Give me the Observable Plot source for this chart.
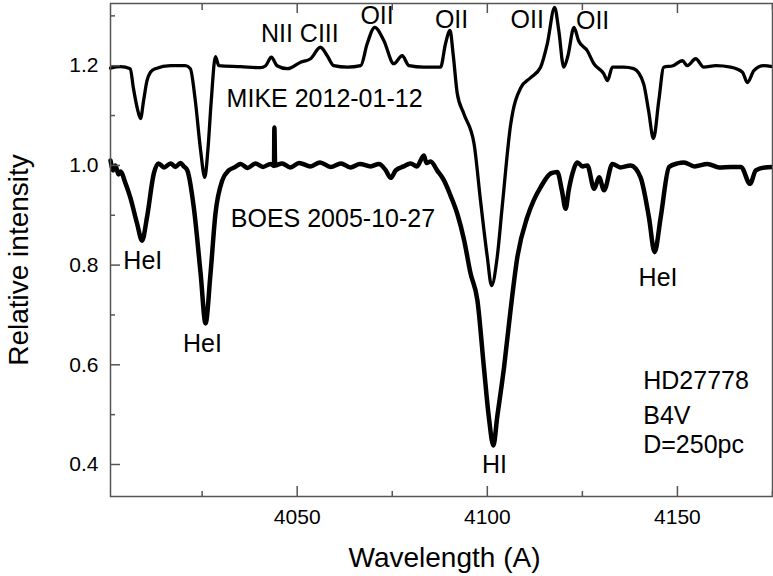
<!DOCTYPE html>
<html><head><meta charset="utf-8">
<script src="https://cdn.jsdelivr.net/npm/d3@7"></script>
<script src="https://cdn.jsdelivr.net/npm/@observablehq/plot@0.6"></script>
<style>body{margin:0;background:#fff;} #chart svg{display:block;}</style>
</head><body><div id="chart"></div>
<script>
// MIKE 2012-01-12 spectrum (offset +0.2)
const mikeWl = [4000.9,4003.5,4006.1,4006.9,4007.9,4008.8,4009.6,4010.5,4011.4,4012.7,4016.7,4020.6,4021.9,4023.2,4024.6,4025.7,4026.5,4027.4,4028.5,4029.4,4035.1,4040.3,4041.7,4043.2,4044.7,4047.4,4050.9,4053.5,4056.1,4057.9,4059.6,4063.2,4066.7,4068.4,4070.4,4072.8,4075.4,4077.6,4079.4,4083.3,4087.7,4089.0,4090.2,4091.0,4092.1,4093.8,4096.5,4098.2,4100.0,4101.1,4102.6,4103.9,4106.1,4108.8,4111.4,4114.0,4115.8,4117.7,4118.8,4120.1,4121.2,4122.8,4124.0,4126.3,4128.0,4130.6,4131.6,4132.9,4135.9,4138.5,4141.1,4142.4,4143.7,4145.1,4146.4,4148.8,4151.3,4152.6,4154.8,4156.9,4160.1,4164.0,4167.1,4168.4,4170.1,4172.7,4175.0];
const mikeVal = [1.195,1.198,1.194,1.156,1.116,1.094,1.13,1.17,1.187,1.194,1.2,1.2,1.194,1.13,1.03,0.976,1.03,1.13,1.218,1.2,1.198,1.196,1.2,1.217,1.2,1.194,1.207,1.214,1.237,1.22,1.2,1.197,1.2,1.244,1.277,1.25,1.204,1.22,1.2,1.197,1.197,1.244,1.271,1.224,1.144,1.104,1.044,0.93,0.816,0.759,0.816,0.916,1.08,1.156,1.176,1.197,1.245,1.317,1.27,1.197,1.22,1.277,1.25,1.23,1.204,1.184,1.17,1.197,1.197,1.194,1.164,1.11,1.054,1.13,1.197,1.2,1.21,1.2,1.214,1.197,1.2,1.197,1.187,1.166,1.19,1.2,1.198];

// BOES 2005-10-27 spectrum
const boesWl = [4000.9,4001.6,4002.2,4003.0,4003.5,4004.8,4006.1,4007.9,4009.2,4010.5,4012.3,4013.5,4015.0,4016.7,4018.0,4019.3,4020.2,4021.1,4022.8,4024.6,4025.9,4027.2,4028.5,4030.3,4032.0,4033.5,4035.1,4037.0,4039.0,4041.0,4043.0,4043.9,4044.0,4044.2,4046.0,4048.2,4050.5,4053.5,4056.0,4058.8,4061.5,4064.0,4066.5,4069.3,4071.5,4073.3,4074.6,4075.9,4078.0,4079.8,4081.5,4083.3,4084.0,4085.1,4086.8,4088.6,4090.3,4092.1,4093.9,4095.6,4097.4,4099.1,4100.4,4101.6,4102.6,4104.4,4106.1,4107.9,4110.5,4112.2,4114.0,4116.7,4118.4,4119.6,4120.6,4121.4,4122.4,4123.7,4125.0,4126.3,4128.1,4129.4,4130.7,4132.9,4135.0,4137.7,4140.3,4142.5,4144.0,4145.6,4147.8,4150.0,4151.7,4154.5,4157.9,4161.0,4164.0,4166.7,4169.1,4170.6,4173.0,4175.0];
const boesVal = [1.01,0.99,1.0,0.982,0.988,0.965,0.936,0.883,0.849,0.896,0.984,1.004,0.996,1.004,0.997,1.005,0.998,0.99,0.916,0.783,0.683,0.783,0.903,0.97,0.99,0.996,1.003,0.995,1.004,0.997,1.003,0.999,1.076,1.0,1.004,0.996,1.005,0.998,1.006,0.997,1.004,0.996,1.003,0.998,1.003,0.99,0.975,0.99,0.998,1.004,0.998,1.02,1.005,1.008,0.99,0.97,0.94,0.903,0.85,0.783,0.729,0.595,0.495,0.438,0.495,0.595,0.709,0.816,0.896,0.93,0.956,0.984,0.987,0.95,0.913,0.95,0.984,1.006,0.998,1.0,0.953,0.976,0.95,1.003,0.996,1.0,0.976,0.896,0.826,0.896,0.997,1.004,1.006,0.998,1.003,0.996,0.997,0.997,0.963,0.99,0.996,0.997];

// Line annotations (text, wavelength, intensity)
const lineLabels = ["NII CIII","OII","OII","OII","OII","MIKE 2012-01-12","BOES 2005-10-27","HeI","HeI","HeI","HI"];
const lineLabelWl = [4050.7,4071.0,4090.6,4110.5,4127.7,4057.2,4059.4,4009.4,4025.1,4144.9,4101.9];
const lineLabelVal = [1.263,1.300,1.291,1.291,1.289,1.133,0.893,0.809,0.641,0.775,0.398];

// Star info block
const infoLines = ["HD27778","B4V","D=250pc"];
const infoWl = [4141.0,4141.0,4141.0];
const infoVal = [0.5685,0.498,0.440];

// Ticks
const xMajor = [4050,4100,4150];
const xMinor = [4025,4075,4125,4175];
const yMajor = [0.4,0.6,0.8,1.0,1.2];
const yMinor = [0.5,0.7,0.9,1.1,1.3];
const xDomain = [4000.9,4175];
const yDomain = [0.3358,1.3248];

const W = 773, H = 576;
const mL = 110, mR = 1, mT = 3, mB = 80;
const innerW = W - mL - mR, innerH = H - mT - mB;

const mike = mikeWl.map((w,i)=>({wl:w, v:mikeVal[i]}));
const boes = boesWl.map((w,i)=>({wl:w, v:boesVal[i]}));
const labels = lineLabels.map((t,i)=>({t, wl:lineLabelWl[i], v:lineLabelVal[i]}));
const info = infoLines.map((t,i)=>({t, wl:infoWl[i], v:infoVal[i]}));

const axisColor = "#555";
const font = "Liberation Sans, Arial, Helvetica, sans-serif";

const plot = Plot.plot({
  width: W, height: H,
  marginLeft: mL, marginRight: mR, marginTop: mT, marginBottom: mB,
  style: {fontFamily: font, background: "#fff", color: "#000"},
  x: {domain: xDomain, axis: null},
  y: {domain: yDomain, axis: null},
  marks: [
    Plot.line(boes, {x:"wl", y:"v", stroke:"#000", strokeWidth:4.5, strokeLinejoin:"round", curve:"monotone-x"}),
    Plot.line(mike, {x:"wl", y:"v", stroke:"#000", strokeWidth:3.3, strokeLinejoin:"round", curve:"monotone-x"}),
    Plot.frame({stroke: axisColor, strokeWidth: 1.5}),
    // inward ticks
    Plot.tickX(xMajor, {x: d=>d, insetTop: innerH-10, stroke: axisColor, strokeWidth:1.5}),
    Plot.tickX(xMinor, {x: d=>d, insetTop: innerH-5, stroke: axisColor, strokeWidth:1.5}),
    Plot.tickX(xMajor, {x: d=>d, insetBottom: innerH-10, stroke: axisColor, strokeWidth:1.5}),
    Plot.tickX(xMinor, {x: d=>d, insetBottom: innerH-7, stroke: axisColor, strokeWidth:1.5}),
    Plot.tickY(yMajor, {y: d=>d, insetRight: innerW-10, stroke: axisColor, strokeWidth:1.5}),
    Plot.tickY(yMinor, {y: d=>d, insetRight: innerW-5, stroke: axisColor, strokeWidth:1.5}),
    // tick labels
    Plot.text(xMajor, {x: d=>d, frameAnchor:"bottom", text: d=>String(d), lineAnchor:"top", dy:13, fontSize:21}),
    Plot.text(yMajor, {y: d=>d, frameAnchor:"left", text: d=>d.toFixed(1), textAnchor:"end", lineAnchor:"middle", dx:-12, fontSize:21}),
    // axis titles
    Plot.text(["Wavelength (A)"], {frameAnchor:"bottom", dx:3, dy:62, lineAnchor:"middle", fontSize:28}),
    Plot.text(["Relative intensity"], {frameAnchor:"left", dx:-91, dy:10, rotate:-90, textAnchor:"middle", lineAnchor:"middle", fontSize:28}),
    // annotations
    Plot.text(labels, {x:"wl", y:"v", text:"t", fontSize:25, lineAnchor:"middle"}),
    Plot.text(info, {x:"wl", y:"v", text:"t", fontSize:25, textAnchor:"start", lineAnchor:"middle"})
  ]
});
document.getElementById("chart").appendChild(plot);
</script>
</body></html>
